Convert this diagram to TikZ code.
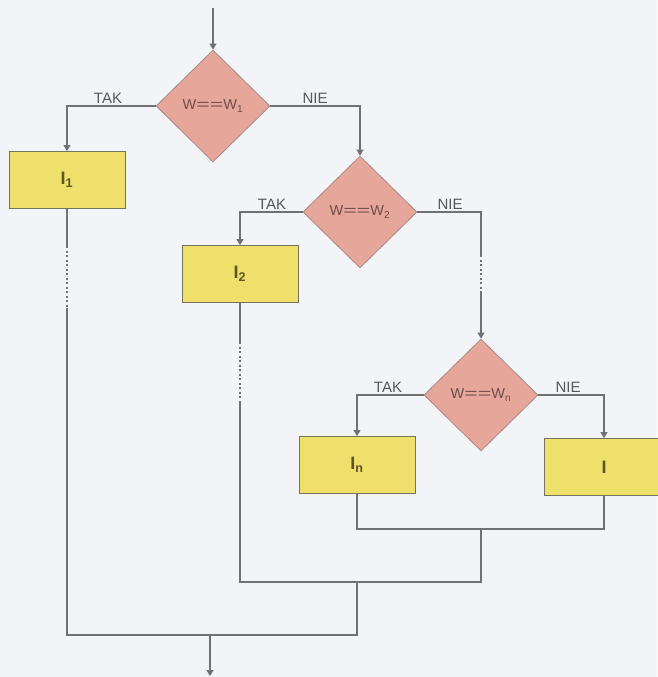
\documentclass[tikz,border=0pt]{standalone}
\usepackage{fontspec}
\setmainfont{Liberation Sans}
\usetikzlibrary{shapes.geometric,arrows.meta}
\definecolor{bg}{HTML}{F3F4F8}
\definecolor{lin}{HTML}{6F7177}
\definecolor{dfill}{HTML}{E6A699}
\definecolor{ddraw}{HTML}{A98A84}
\definecolor{bfill}{HTML}{EEE06A}
\definecolor{bdraw}{HTML}{74735E}
\definecolor{btext}{HTML}{5E5520}
\definecolor{dtext}{HTML}{6E4E48}
\definecolor{ltext}{HTML}{55575C}
\newcommand\dbleq{\scalebox{1.6}[1]{==}}
\begin{document}
\begin{tikzpicture}[x=1pt,y=-1pt,
 cond/.style={diamond,fill=dfill,draw=ddraw,line width=0.8pt,minimum width=114pt,minimum height=112pt,inner sep=0pt,text=dtext,font=\fontsize{14.5}{14.5}\selectfont},
 instr/.style={rectangle,fill=bfill,draw=bdraw,line width=0.9pt,minimum width=116pt,minimum height=57pt,inner sep=0pt,text=btext,font=\fontsize{18}{18}\selectfont\bfseries},
 flow/.style={draw=lin,line width=1.1pt},
 arr/.style={flow,-{Triangle[width=7pt,length=6pt]}},
 gap/.style={draw=lin,line width=1.6pt,dash pattern=on 2pt off 2.5pt},
 lab/.style={text=ltext,font=\fontsize{15}{15}\selectfont,anchor=south,inner sep=1pt}
]
\fill[bg] (0,0) rectangle (657,677);
\useasboundingbox (0,0) rectangle (657,677);

% decisions
\node[cond] (d1) at (213,106) {W\dbleq W\textsubscript{1}};
\node[cond] (d2) at (360,212) {W\dbleq W\textsubscript{2}};
\node[cond] (dn) at (481,395) {W\dbleq W\textsubscript{n}};

% instructions
\node[instr] (i1) at (67,180) {I\textsubscript{1}};
\node[instr] (i2) at (240,274) {I\textsubscript{2}};
\node[instr] (in) at (357,465) {I\textsubscript{n}};
\node[instr,minimum width=120pt] (iz) at (604,467) {I};

% coordinates
\coordinate (top) at (213,8);
\coordinate (c2a) at (481,255);
\coordinate (c2b) at (481,292);
\coordinate (g1a) at (67,246);
\coordinate (g1b) at (67,308);
\coordinate (g2a) at (240,342);
\coordinate (g2b) at (240,402);
\coordinate (m1) at (481,529);
\coordinate (m2) at (357,582);
\coordinate (m3) at (210,635);
\coordinate (bot) at (210,676);

% connectors
\draw[arr] (top) -- (d1.north);
\draw[arr] (d1.west) -| (i1.north);
\draw[arr] (d1.east) -| (d2.north);
\draw[arr] (d2.west) -| (i2.north);
\draw[flow] (d2.east) -| (c2a);
\draw[gap] (c2a) -- (c2b);
\draw[arr] (c2b) -- (dn.north);
\draw[arr] (dn.west) -| (in.north);
\draw[arr] (dn.east) -| (iz.north);

\draw[flow] (in.south) -- (in.south |- m1) -- (iz.south |- m1) -- (iz.south);
\draw[flow] (m1) |- (m2);
\draw[flow] (i2.south) -- (g2a);
\draw[gap] (g2a) -- (g2b);
\draw[flow] (g2b) |- (m2);
\draw[flow] (m2) |- (m3);
\draw[flow] (i1.south) -- (g1a);
\draw[gap] (g1a) -- (g1b);
\draw[flow] (g1b) |- (m3);
\draw[arr] (m3) -- (bot);

% labels
\node[lab] at (108,105) {TAK};
\node[lab] at (315,105) {NIE};
\node[lab] at (272,211) {TAK};
\node[lab] at (450,211) {NIE};
\node[lab] at (388,394) {TAK};
\node[lab] at (568,394) {NIE};
\end{tikzpicture}
\end{document}
